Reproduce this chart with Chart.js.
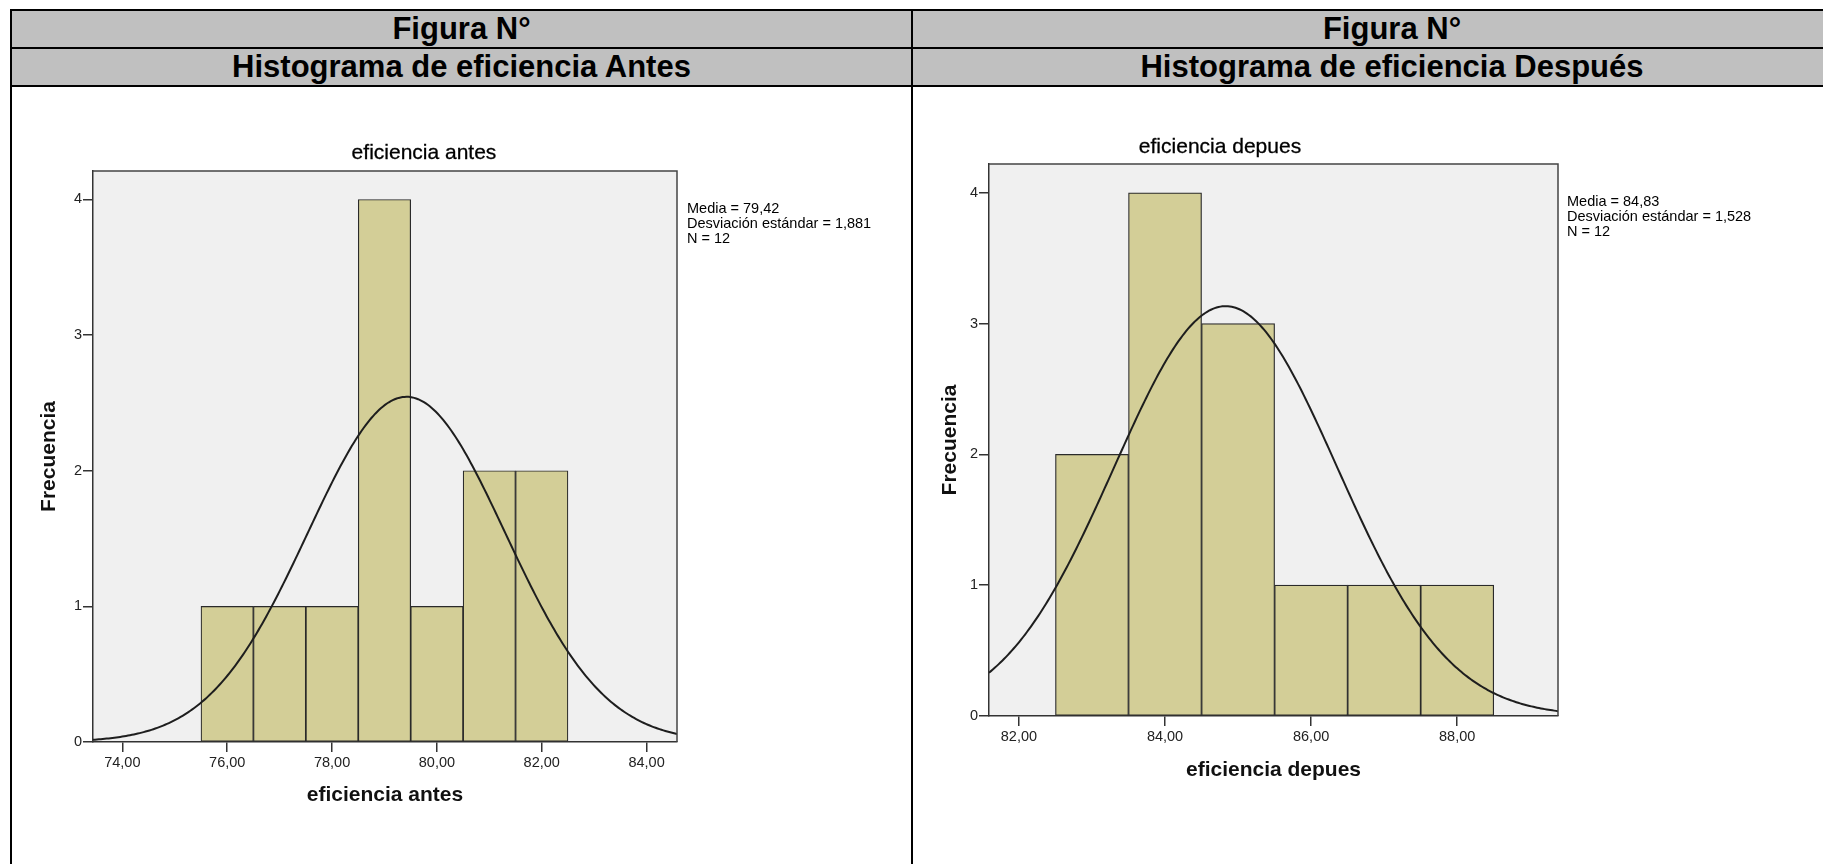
<!DOCTYPE html>
<html>
<head>
<meta charset="utf-8">
<script src="https://cdn.jsdelivr.net/npm/chart.js@4.4.1/dist/chart.umd.min.js"></script>
<style>
  html, body { margin: 0; padding: 0; background: #fff; width: 1823px; height: 864px; overflow: hidden;
    font-family: "Liberation Sans", Arial, sans-serif; }
  #page { position: relative; width: 1823px; height: 864px; }
  .hdr { position: absolute; background: #c0c0c0; font-weight: bold; font-size: 31px; color: #000;
    display: flex; align-items: center; justify-content: center; white-space: nowrap; }
  .ln { position: absolute; background: #000; z-index: 5; }
  .cv { position: absolute; top: 0; }
  .ttl { position: absolute; font-size: 21px; color: #000; transform: translate(-50%, -50%); white-space: nowrap;
    -webkit-text-stroke: 0.3px #000; }
  .stats { position: absolute; font-size: 14.5px; line-height: 15px; color: #000; white-space: pre; }
</style>
</head>
<body>
<div id="page">
  <div class="hdr" style="left:12px;top:11px;width:899px;height:36px;">Figura N°</div>
  <div class="hdr" style="left:12px;top:49px;width:899px;height:36px;">Histograma de eficiencia Antes</div>
  <div class="hdr" style="left:913px;top:11px;width:958px;height:36px;">Figura N°</div>
  <div class="hdr" style="left:913px;top:49px;width:958px;height:36px;">Histograma de eficiencia Después</div>

  <div class="cv" style="left:0;width:911px;height:864px;"><canvas id="chartAntes"></canvas></div>
  <div class="cv" style="left:913px;width:910px;height:864px;"><canvas id="chartDespues"></canvas></div>

  <div class="ttl" style="left:424px;top:152px;">eficiencia antes</div>
  <div class="ttl" style="left:1220px;top:146px;">eficiencia depues</div>
  <div class="stats" id="statsAntes" style="left:687px;top:201px;"></div>
  <div class="stats" id="statsDespues" style="left:1567px;top:194px;"></div>

  <div class="ln" style="left:10px;top:9px;width:1813px;height:2px;"></div>
  <div class="ln" style="left:10px;top:47px;width:1813px;height:2px;"></div>
  <div class="ln" style="left:10px;top:85px;width:1813px;height:2px;"></div>
  <div class="ln" style="left:10px;top:9px;width:2px;height:855px;"></div>
  <div class="ln" style="left:911px;top:9px;width:2px;height:855px;"></div>
</div>

<script>
// ---- eficiencia antes ----
const binCentersAntes = [76, 77, 78, 79, 80, 81, 82];
const countsAntes     = [1, 1, 1, 4, 1, 2, 2];
const meanAntes = 79.42;
const sdAntes   = 1.881;
const nAntes    = 12;
const xTicksAntes = [74, 76, 78, 80, 82, 84];
const xRangeAntes = [73.44, 84.58];
const yRangeAntes = [0, 4.21];

// ---- eficiencia depues ----
const binCentersDespues = [83, 84, 85, 86, 87, 88];
const countsDespues     = [2, 4, 3, 1, 1, 1];
const meanDespues = 84.83;
const sdDespues   = 1.528;
const nDespues    = 12;
const xTicksDespues = [82, 84, 86, 88];
const xRangeDespues = [81.59, 89.38];
const yRangeDespues = [0, 4.22];

const yTicks = [0, 1, 2, 3, 4];
const binWidth = 1;

Chart.defaults.font.family = '"Liberation Sans", Arial, sans-serif';
Chart.defaults.color = '#222';

const comma = (v, d) => v.toFixed(d).replace('.', ',');

// normal curve scaled to the histogram: N * binWidth * pdf(x)
function normalCurve(mean, sd, n, xmin, xmax, steps) {
  const k = n * binWidth / (sd * Math.sqrt(2 * Math.PI));
  const pts = [];
  for (let i = 0; i <= steps; i++) {
    const x = xmin + (xmax - xmin) * i / steps;
    const z = (x - mean) / sd;
    pts.push({ x: x, y: k * Math.exp(-0.5 * z * z) });
  }
  return pts;
}

const plotFrame = {
  id: 'plotFrame',
  beforeDraw(chart) {
    const { ctx, chartArea: a } = chart;
    ctx.save();
    ctx.fillStyle = '#f0f0f0';
    ctx.fillRect(a.left, a.top, a.width, a.height);
    ctx.restore();
  },
  afterDraw(chart) {
    const { ctx, chartArea: a } = chart;
    ctx.save();
    ctx.strokeStyle = '#444';
    ctx.lineWidth = 1.5;
    ctx.beginPath();
    ctx.moveTo(a.left, a.top);
    ctx.lineTo(a.right, a.top);
    ctx.lineTo(a.right, a.bottom);
    ctx.stroke();
    ctx.restore();
  }
};

function buildHistogram(canvasId, cfg) {
  const bars = cfg.centers.map((c, i) => ({ x: c, y: cfg.counts[i] }));
  const curve = normalCurve(cfg.mean, cfg.sd, cfg.n, cfg.xRange[0], cfg.xRange[1], 300);
  return new Chart(document.getElementById(canvasId), {
    type: 'bar',
    data: {
      datasets: [
        {
          type: 'line', data: curve, order: 0,
          borderColor: '#1e1e1e', borderWidth: 2, pointRadius: 0, tension: 0, fill: false
        },
        {
          type: 'bar', data: bars, order: 1,
          backgroundColor: '#d3ce97', borderColor: '#2a2a2a', borderWidth: 1.2, borderSkipped: false,
          barPercentage: 1, categoryPercentage: 1, grouped: false
        }
      ]
    },
    options: {
      responsive: true, maintainAspectRatio: false, animation: false,
      layout: { padding: { left: 0, top: cfg.area.top, right: cfg.area.right, bottom: 0 } },
      plugins: { legend: { display: false }, tooltip: { enabled: false } },
      scales: {
        x: {
          type: 'linear', min: cfg.xRange[0], max: cfg.xRange[1], offset: false,
          afterBuildTicks: s => { s.ticks = cfg.xTicks.map(v => ({ value: v })); },
          afterFit: s => { s.height = cfg.area.xAxisH; },
          ticks: { font: { size: 14.5 }, padding: 2, maxRotation: 0, autoSkip: false, callback: v => comma(v, 2) },
          grid: { display: true, offset: false, drawOnChartArea: false, drawTicks: true, tickLength: 10, color: '#333', lineWidth: 1.5 },
          border: { display: true, color: '#333', width: 1.5 },
          title: { display: true, text: cfg.xTitle, font: { size: 21, weight: 'bold' }, color: '#111',
                   padding: { top: 0, bottom: cfg.area.xTitlePad } }
        },
        y: {
          type: 'linear', min: 0, max: cfg.yMax,
          afterBuildTicks: s => { s.ticks = yTicks.map(v => ({ value: v })); },
          afterFit: s => { s.width = cfg.area.yAxisW; },
          ticks: { font: { size: 14.5 }, padding: 1, callback: v => String(v) },
          grid: { display: true, drawOnChartArea: false, drawTicks: true, tickLength: 10, color: '#333', lineWidth: 1.5 },
          border: { display: true, color: '#333', width: 1.5 },
          title: { display: true, text: 'Frecuencia', font: { size: 21, weight: 'bold' }, color: '#111',
                   padding: { top: cfg.area.yTitlePad, bottom: 0 } }
        }
      }
    },
    plugins: [plotFrame]
  });
}

buildHistogram('chartAntes', {
  centers: binCentersAntes, counts: countsAntes, mean: meanAntes, sd: sdAntes, n: nAntes,
  xTicks: xTicksAntes, xRange: xRangeAntes, yMax: yRangeAntes[1], xTitle: 'eficiencia antes',
  area: { top: 171, right: 234, yAxisW: 93, xAxisH: 122, xTitlePad: 56, yTitlePad: 37 }
});

buildHistogram('chartDespues', {
  centers: binCentersDespues, counts: countsDespues, mean: meanDespues, sd: sdDespues, n: nDespues,
  xTicks: xTicksDespues, xRange: xRangeDespues, yMax: yRangeDespues[1], xTitle: 'eficiencia depues',
  area: { top: 164, right: 265, yAxisW: 76, xAxisH: 148, xTitlePad: 81, yTitlePad: 25 }
});

function statsText(mean, sd, n) {
  return 'Media = ' + comma(mean, 2) + '\nDesviación estándar = ' + comma(sd, 3) + '\nN = ' + n;
}
document.getElementById('statsAntes').textContent = statsText(meanAntes, sdAntes, nAntes);
document.getElementById('statsDespues').textContent = statsText(meanDespues, sdDespues, nDespues);
</script>
</body>
</html>
